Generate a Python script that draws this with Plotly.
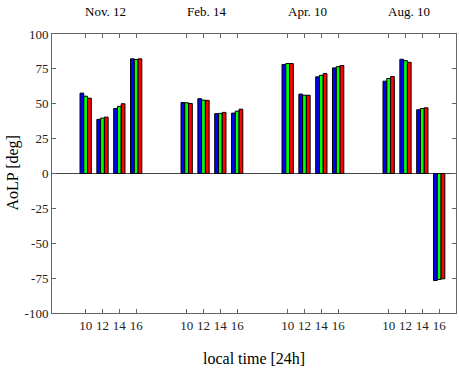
import plotly.graph_objects as go

dates = ["Nov. 12", "Feb. 14", "Apr. 10", "Aug. 10"]
hours = ["10", "12", "14", "16"]
# x positions of the hour ticks (4 groups of 4)
x_pos = [1, 2, 3, 4, 7, 8, 9, 10, 13, 14, 15, 16, 19, 20, 21, 22]
date_label_x = [2.2, 8.2, 14.2, 20.2]

blue = [57.6, 38.8, 46.6, 82.2,
        50.9, 53.6, 42.9, 43.3,
        78.1, 56.9, 69.3, 75.7,
        66.2, 81.9, 45.7, -76.7]
green = [55.4, 39.7, 48.1, 81.7,
         50.7, 52.6, 43.1, 44.7,
         78.8, 56.1, 70.4, 76.6,
         68.1, 80.9, 46.6, -76.0]
red = [54.0, 40.4, 50.0, 82.2,
       50.2, 52.4, 43.8, 46.1,
       78.8, 56.1, 71.6, 77.4,
       69.5, 79.7, 47.1, -75.5]

series = [("blue", blue, "#0000ff"), ("green", green, "#00ff00"), ("red", red, "#ff0000")]

FONT = "Liberation Serif"
AX = "#666666"

fig = go.Figure()
for name, vals, col in series:
    fig.add_trace(go.Bar(
        x=x_pos, y=vals, name=name,
        marker=dict(color=col, line=dict(color="black", width=1)),
        showlegend=False,
    ))

for d, xv in zip(dates, date_label_x):
    fig.add_annotation(x=xv, y=1, xref="x", yref="paper", yshift=13,
                       text=d, showarrow=False,
                       font=dict(family=FONT, size=13, color="black"),
                       xanchor="center", yanchor="bottom")

# axis titles placed as annotations for exact positioning
fig.add_annotation(x=0.5, y=0, xref="paper", yref="paper", yshift=-45,
                   text="local time [24h]", showarrow=False,
                   font=dict(family=FONT, size=16, color="black"),
                   xanchor="center", yanchor="middle")
fig.add_annotation(x=0, y=0.5, xref="paper", yref="paper", xshift=-40,
                   text="AoLP [deg]", showarrow=False, textangle=-90,
                   font=dict(family=FONT, size=16, color="black"),
                   xanchor="center", yanchor="middle")

fig.update_layout(
    width=459, height=369,
    margin=dict(l=52, r=3, t=34, b=56),
    paper_bgcolor="white", plot_bgcolor="white",
    barmode="group", bargap=0.33, bargroupgap=0,
    font=dict(family=FONT, color="black"),
)
fig.update_xaxes(
    range=[-1, 23], automargin=False,
    tickmode="array", tickvals=x_pos, ticktext=hours * 4,
    ticks="inside", ticklen=4, tickcolor=AX,
    showline=True, linecolor=AX, linewidth=1, mirror="ticks",
    showgrid=False, zeroline=False,
    tickfont=dict(family=FONT, size=13, color="#222222"),
)
fig.update_yaxes(
    range=[-100, 100], automargin=False,
    tickmode="array", tickvals=[-100, -75, -50, -25, 0, 25, 50, 75, 100],
    ticktext=["-100", "-75", "-50", "-25", "0", "25", "50", "75", "100"],
    ticks="inside", ticklen=4, tickcolor=AX,
    showline=True, linecolor=AX, linewidth=1, mirror="ticks",
    showgrid=False, zeroline=True, zerolinecolor="#444444", zerolinewidth=1,
    tickfont=dict(family=FONT, size=13, color="#222222"),
)

fig.write_html("out.html", config={"displayModeBar": False},
               post_script="document.body.style.margin='0';document.body.style.overflow='hidden';")
